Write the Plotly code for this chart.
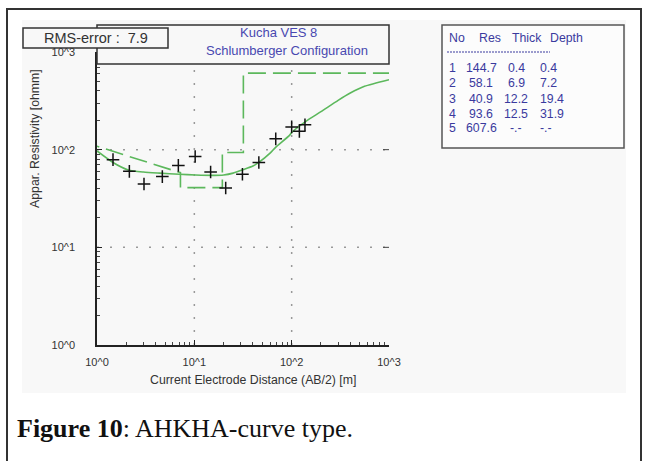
import plotly.graph_objects as go
import numpy as np

# ---------------- data ----------------
# observed apparent resistivity (crosses)
ab2_obs = [1.46, 2.15, 3.04, 4.69, 6.85, 10.2, 14.7, 21.0, 31.2, 46.0, 68.6, 100, 120, 137]
rho_obs = [79, 60, 44.5, 53, 69, 85, 59, 40.5, 56, 74, 129, 171, 154, 180]

# calculated model response (solid curve)
ab2_calc = [1.0, 1.46, 2.1, 3.0, 4.4, 7.0, 10.3, 16, 20, 25, 31, 40, 46, 60, 68, 95, 100, 140, 200, 300, 400, 560, 1000]
rho_calc = [97, 74, 62, 59, 57.5, 56, 55, 54.5, 55, 57.5, 62, 68, 74, 92, 105, 140, 150, 195, 245, 320, 380, 445, 520]

# layer model (table + dashed step curve)
layer_no = ["1", "2", "3", "4", "5"]
layer_res = [144.7, 58.1, 40.9, 93.6, 607.6]
layer_thick = ["0.4", "6.9", "12.2", "12.5", "-.-"]
layer_depth = [0.4, 7.2, 19.4, 31.9]
depth_text = ["0.4", "7.2", "19.4", "31.9", "-.-"]
x_max = 1000

rms_error = 7.9
title1 = "Kucha VES 8"
title2 = "Schlumberger Configuration"
x_title = "Current Electrode Distance (AB/2) [m]"
y_title = "Appar. Resistivity [ohmm]"
tick_vals = [1, 10, 100, 1000]
tick_text = ["10^0", "10^1", "10^2", "10^3"]
caption_bold = "Figure 10"
caption_rest = ": AHKHA-curve type."

# step model path built from table arrays
step_x = [layer_depth[0], layer_depth[1], layer_depth[1], layer_depth[2],
          layer_depth[2], layer_depth[3], layer_depth[3], x_max]
step_y = [layer_res[0], layer_res[1], layer_res[2], layer_res[2],
          layer_res[3], layer_res[3], layer_res[4], layer_res[4]]

# ---------------- layout helpers ----------------
W, H = 666, 461
L, R, T, B = 97, 389, 52, 345
def px(x):
    return (x - L) / (R - L)
def py(y):
    return (B - y) / (B - T)

BG = "#f8f8f8"
GREEN = "#5cb85c"
BLUE = "#3a3a9e"
FONT = "Liberation Sans, Arial, sans-serif"

fig = go.Figure()

fig.add_trace(go.Scatter(x=step_x, y=step_y, mode="lines",
                         line=dict(color=GREEN, width=1.6, dash="18px,7px"),
                         hoverinfo="skip", showlegend=False))
fig.add_trace(go.Scatter(x=ab2_calc, y=rho_calc, mode="lines",
                         line=dict(color=GREEN, width=1.6, shape="spline", smoothing=0.6),
                         hoverinfo="skip", showlegend=False))
fig.add_trace(go.Scatter(x=ab2_obs, y=rho_obs, mode="markers",
                         marker=dict(symbol="cross-thin", size=9,
                                     line=dict(color="#111", width=1.5)),
                         hoverinfo="skip", showlegend=False))

minor_vals = [m * 10 ** e for e in range(0, 3) for m in range(2, 10)]

axis_common = dict(type="log", range=[0, 3], showgrid=False, zeroline=False,
                   showline=True, linecolor="#222", linewidth=1.5,
                   ticks="inside", ticklen=5, tickcolor="#222", tickwidth=1,
                   tickmode="array", tickvals=tick_vals, ticktext=tick_text,
                   tickfont=dict(family=FONT, size=11, color="#333"),
                   minor=dict(ticks="inside", ticklen=3, tickcolor="#444",
                              tickmode="array", tickvals=minor_vals, showgrid=False))

fig.update_xaxes(**axis_common, ticklabelstandoff=6)
fig.update_yaxes(**axis_common, ticklabelstandoff=18)

shapes = []
# grey screenshot background
shapes.append(dict(type="rect", xref="paper", yref="paper", layer="below",
                   x0=px(22), x1=px(626), y0=py(20), y1=py(393),
                   fillcolor=BG, line=dict(width=0)))
# dotted grid lines
for v in [10, 100]:
    f = np.log10(v) / 3
    shapes.append(dict(type="line", xref="paper", yref="paper", layer="below",
                       x0=f, x1=f, y0=0, y1=1,
                       line=dict(color="#999", width=1.5, dash="2px,11px")))
    shapes.append(dict(type="line", xref="paper", yref="paper", layer="below",
                       x0=0, x1=1, y0=f, y1=f,
                       line=dict(color="#999", width=1.5, dash="2px,11px")))
    shapes.append(dict(type="line", xref="paper", yref="paper",
                       x0=1 - 6 / (R - L), x1=1, y0=f, y1=f,
                       line=dict(color="#444", width=1)))
# header box
shapes.append(dict(type="rect", xref="paper", yref="paper",
                   x0=px(97), x1=px(389), y0=py(25), y1=py(64),
                   fillcolor=BG, line=dict(color="#333", width=1.5)))
# RMS box
shapes.append(dict(type="rect", xref="paper", yref="paper",
                   x0=px(23), x1=px(168), y0=py(28), y1=py(48),
                   fillcolor=BG, line=dict(color="#333", width=1.5)))
# table box
shapes.append(dict(type="rect", xref="paper", yref="paper",
                   x0=px(442), x1=px(624), y0=py(25), y1=py(148),
                   fillcolor="#fcfcfc", line=dict(color="#555", width=1.5)))
shapes.append(dict(type="line", xref="paper", yref="paper",
                   x0=px(447), x1=px(550), y0=py(52), y1=py(52),
                   line=dict(color=BLUE, width=1, dash="2px,1px")))
# outer page border
shapes.append(dict(type="rect", xref="paper", yref="paper",
                   x0=px(7), x1=px(641), y0=py(9), y1=py(475),
                   fillcolor="rgba(0,0,0,0)", line=dict(color="#333", width=2)))

ann = []
def text(x, y, s, size=11, color="#333", xanchor="center", family=FONT, angle=0):
    ann.append(dict(xref="paper", yref="paper", x=px(x), y=py(y), text=s,
                    showarrow=False, xanchor=xanchor, yanchor="middle",
                    textangle=angle,
                    font=dict(family=family, size=size, color=color)))

text(42, 38, f"RMS-error :  {rms_error}", size=14.5, xanchor="left")
text(278, 32, title1, size=13, color="#4848b0")
text(287, 51, title2, size=13, color="#4848b0")
text(253, 380, x_title, size=12.3)
text(35, 139, y_title, size=12.3, angle=-90)

# table
TS = 12.3
text(447, 38, "No", color=BLUE, xanchor="left", size=TS)
text(477, 38, "Res", color=BLUE, xanchor="left", size=TS)
text(510, 38, "Thick", color=BLUE, xanchor="left", size=TS)
text(548, 38, "Depth", color=BLUE, xanchor="left", size=TS)
row_y = [68, 83, 98.5, 113.5, 128]
for i in range(5):
    y = row_y[i]
    text(452, y, layer_no[i], color=BLUE, size=TS)
    text(481, y, f"{layer_res[i]}", color=BLUE, size=TS)
    text(516, y, layer_thick[i], color=BLUE, size=TS)
    text(538, y, depth_text[i], color=BLUE, size=TS, xanchor="left")

ann.append(dict(xref="paper", yref="paper", x=px(15), y=py(428),
                text=f"<b>{caption_bold}</b>{caption_rest}", showarrow=False,
                xanchor="left", yanchor="middle",
                font=dict(family="Liberation Serif, serif", size=26, color="#111")))

fig.update_layout(width=W, height=H, margin=dict(l=L, r=W - R, t=T, b=H - B),
                  paper_bgcolor="white", plot_bgcolor=BG,
                  shapes=shapes, annotations=ann, showlegend=False)

fig.write_html("out.html", config={"displayModeBar": False},
               post_script="document.body.style.margin='0px';document.body.style.overflow='hidden';")
